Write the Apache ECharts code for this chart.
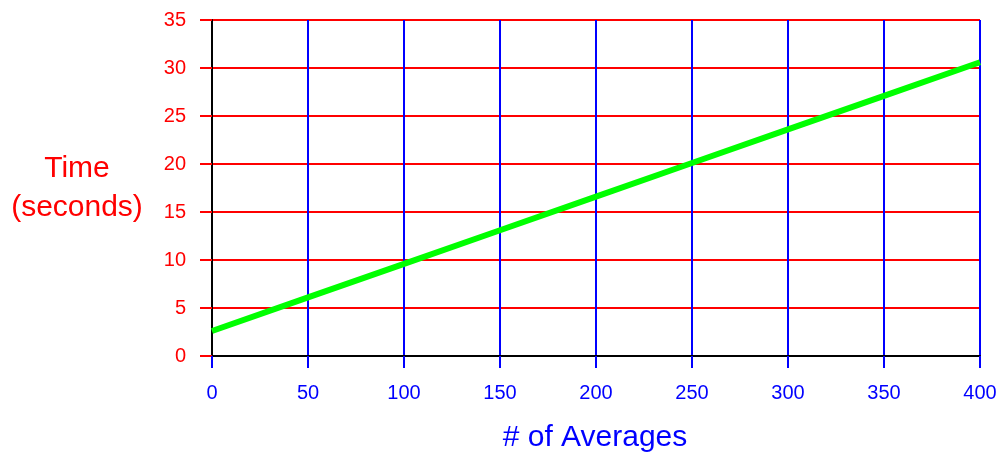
<!DOCTYPE html>
<html>
<head>
<meta charset="utf-8">
<script src="https://cdn.jsdelivr.net/npm/echarts@6/dist/echarts.min.js"></script>
<style>
html,body{margin:0;padding:0;background:#fff;}
#chart{width:998px;height:453px;}
</style>
</head>
<body>
<div id="chart"></div>
<script>
// Data
const averages = [0, 50, 100, 150, 200, 250, 300, 350, 400];
const timeSeconds = [2.6, 6.1, 9.6, 13.1, 16.6, 20.1, 23.6, 27.1, 30.6];
const yTitle = 'Time\n(seconds)';
const xTitle = '# of Averages';

const chart = echarts.init(document.getElementById('chart'));
const font = '"Liberation Sans", Arial, sans-serif';
chart.setOption({
  animation: false,
  backgroundColor: '#ffffff',
  grid: { left: 212, right: 18, top: 20, bottom: 97, containLabel: false, outerBoundsMode: 'none' },
  xAxis: {
    type: 'value', min: 0, max: 400, interval: 50,
    axisLine: { show: true, onZero: false, lineStyle: { color: '#000', width: 2 } },
    axisTick: { show: true, length: 12, lineStyle: { color: '#0000ff', width: 2 } },
    axisLabel: { color: '#0000ff', fontSize: 20, fontFamily: font, margin: 27 },
    splitLine: { show: true, lineStyle: { color: '#0000ff', width: 2 } }
  },
  yAxis: {
    type: 'value', min: 0, max: 35, interval: 5,
    axisLine: { show: true, lineStyle: { color: '#000', width: 2 } },
    axisTick: { show: true, length: 12, lineStyle: { color: '#ff0000', width: 2 } },
    axisLabel: { color: '#ff0000', fontSize: 20, fontFamily: font, margin: 26 },
    splitLine: { show: true, lineStyle: { color: '#ff0000', width: 2 } }
  },
  graphic: [
    { type: 'text', x: 77, y: 188, style: { text: yTitle, fill: '#ff0000', font: '30px ' + font, align: 'center', verticalAlign: 'middle', lineHeight: 39 } },
    { type: 'text', x: 595, y: 438, style: { text: xTitle, fill: '#0000ff', font: '30px ' + font, align: 'center', verticalAlign: 'middle' } }
  ],
  series: [{
    type: 'line',
    data: averages.map((a, i) => [a, timeSeconds[i]]),
    showSymbol: false,
    lineStyle: { color: '#00ff00', width: 6 },
    z: 10
  }]
});
</script>
</body>
</html>
